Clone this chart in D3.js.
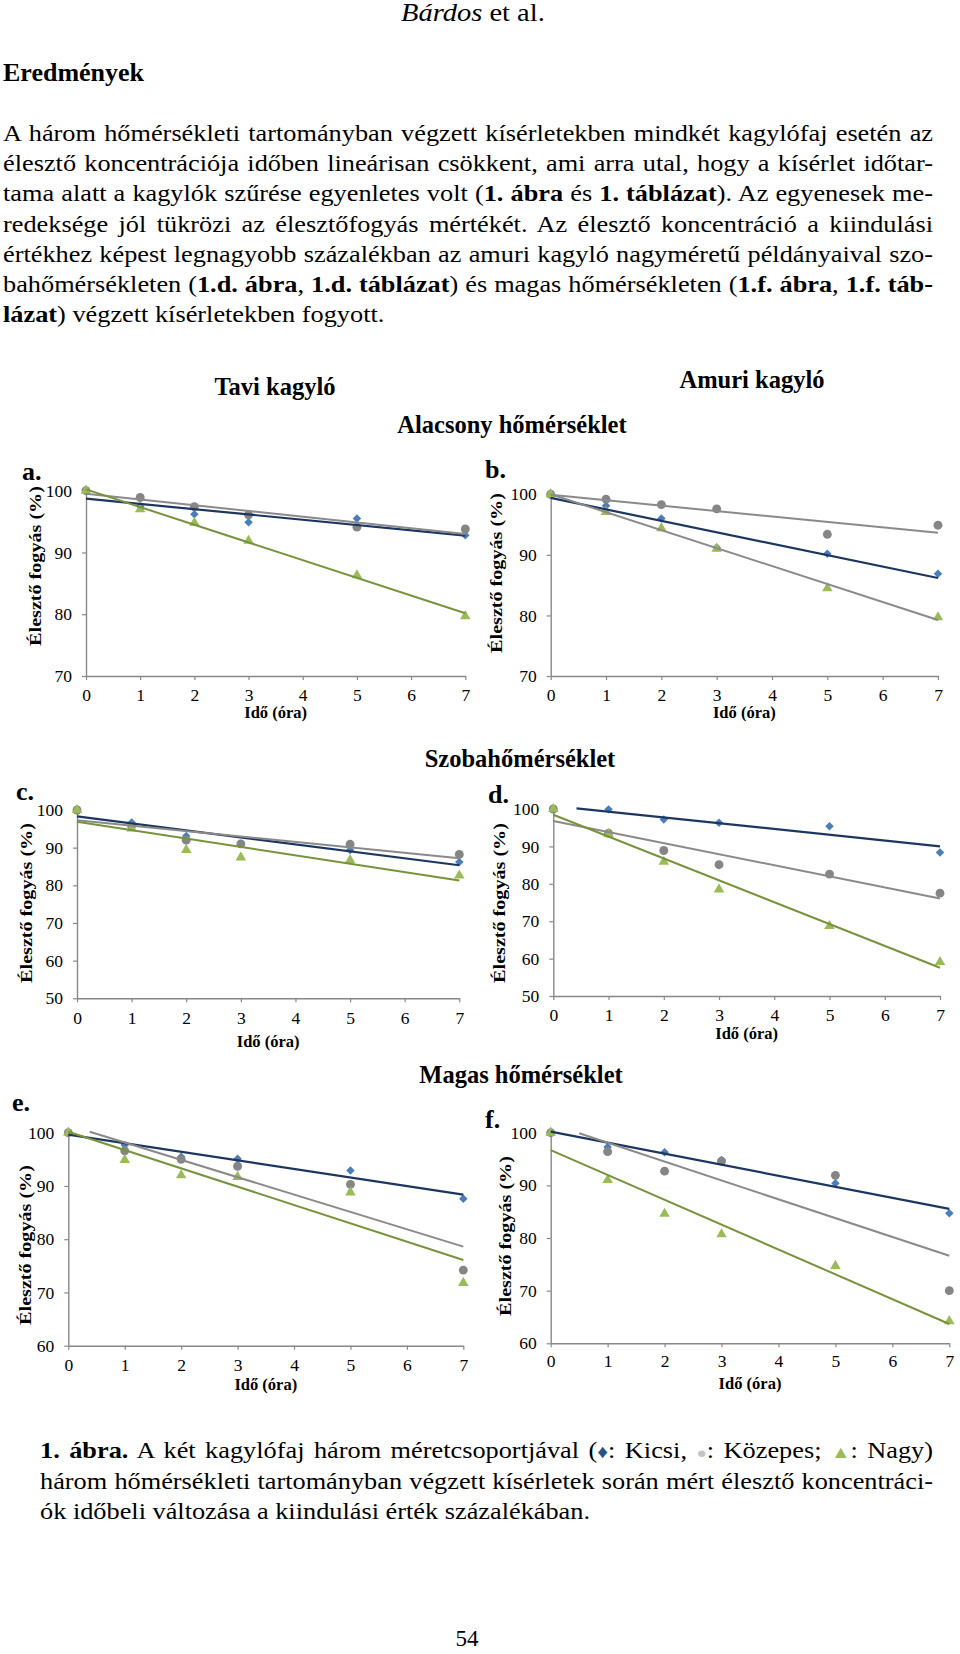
<!DOCTYPE html>
<html><head><meta charset="utf-8">
<script src="https://cdn.jsdelivr.net/npm/d3@7"></script>
<style>
body{margin:0;background:#fff;}
svg{display:block;}
text{font-family:"Liberation Serif","Times New Roman",serif;fill:#000;white-space:pre;}
</style></head><body>
<svg id="page" width="960" height="1654"></svg>
<script>
// ---------------- DATA ----------------
const hours = [0, 1, 2, 3, 5, 7];
const xTickValues = [0, 1, 2, 3, 4, 5, 6, 7];
const sizeGroups = ["Kicsi", "Közepes", "Nagy"];
const panelLabels = ["a.", "b.", "c.", "d.", "e.", "f."];
const yAxisMin = [70, 70, 50, 50, 60, 60];
const yAxisMax = [100, 100, 100, 100, 100, 100];

// a. Tavi kagyló – alacsony hőmérséklet
const aKicsi   = [100, 97.5, 96.2, 94.9, 95.5, 92.8];
const aKozepes = [100, 98.9, 97.4, 96.1, 94.1, 93.8];
const aNagy    = [100, 97.0, 94.8, 91.9, 86.3, 79.7];
// b. Amuri kagyló – alacsony hőmérséklet
const bKicsi   = [100, 98.1, 96.0, 91.2, 90.2, 86.9];
const bKozepes = [100, 99.2, 98.3, 97.6, 93.4, 94.9];
const bNagy    = [100, 97.1, 94.4, 91.0, 84.5, 79.7];
// c. Tavi kagyló – szobahőmérséklet
const cKicsi   = [100, 96.7, 93.1, 91.0, 89.4, 86.2];
const cKozepes = [100, 95.8, 92.0, 91.0, 90.9, 88.2];
const cNagy    = [100, 95.1, 89.4, 87.4, 86.7, 82.6];
// d. Amuri kagyló – szobahőmérséklet
const dKicsi   = [100, 99.9, 97.2, 96.3, 95.4, 88.4];
const dKozepes = [100, 93.5, 88.9, 85.1, 82.6, 77.5];
const dNagy    = [100, 93.3, 85.9, 78.5, 68.7, 59.1];
// e. Tavi kagyló – magas hőmérséklet
const eKicsi   = [100, 97.7, 95.5, 95.1, 92.9, 87.6];
const eKozepes = [100, 96.6, 95.0, 93.7, 90.3, 74.2];
const eNagy    = [100, 94.9, 92.0, 91.7, 88.8, 71.8];
// f. Amuri kagyló – magas hőmérséklet
const fKicsi   = [100, 97.3, 96.3, 94.8, 90.4, 84.7];
const fKozepes = [100, 96.4, 92.7, 94.6, 91.9, 70.0];
const fNagy    = [100, 91.0, 84.6, 80.7, 74.7, 64.2];

// x where each trend line begins (Kicsi, Közepes, Nagy)
const trendStart = [[0,0,0],[0,0,0],[0,0,0],[0.42,0,0],[0,0.38,0],[0,0.5,0]];

const panelSeries = [
  [aKicsi, aKozepes, aNagy], [bKicsi, bKozepes, bNagy],
  [cKicsi, cKozepes, cNagy], [dKicsi, dKozepes, dNagy],
  [eKicsi, eKozepes, eNagy], [fKicsi, fKozepes, fNagy]
];

const speciesTitles = ["Tavi kagyló", "Amuri kagyló"];
const tempTitles = ["Alacsony hőmérséklet", "Szobahőmérséklet", "Magas hőmérséklet"];
const xAxisTitle = "Idő (óra)";
const yAxisTitle = "Élesztő fogyás (%)";

const paraLines = [
  [["A három hőmérsékleti tartományban végzett kísérletekben mindkét kagylófaj esetén az",0]],
  [["élesztő koncentrációja időben lineárisan csökkent, ami arra utal, hogy a kísérlet időtar-",0]],
  [["tama alatt a kagylók szűrése egyenletes volt (",0],["1. ábra",1],[" és ",0],["1. táblázat",1],["). Az egyenesek me-",0]],
  [["redeksége jól tükrözi az élesztőfogyás mértékét. Az élesztő koncentráció a kiindulási",0]],
  [["értékhez képest legnagyobb százalékban az amuri kagyló nagyméretű példányaival szo-",0]],
  [["bahőmérsékleten (",0],["1.d. ábra",1],[", ",0],["1.d. táblázat",1],[") és magas hőmérsékleten (",0],["1.f. ábra",1],[", ",0],["1.f. táb-",1]],
  [["lázat",1],[") végzett kísérletekben fogyott.",0]]
];
const captionLines = [
  [["1. ábra.",1],[" A két kagylófaj három méretcsoportjával (",0],["♦",2],[": Kicsi, ",0],["●",3],[": Közepes; ",0],["▲",4],[": Nagy)",0]],
  [["három hőmérsékleti tartományban végzett kísérletek során mért élesztő koncentráci-",0]],
  [["ók időbeli változása a kiindulási érték százalékában.",0]]
];

// ---------------- STYLE / LAYOUT ----------------
const COL = {
  navy: "#1c3660", gray: "#8a8a8a", green: "#77933c",
  mBlue: "#4a7ebb", mGray: "#858585", mGreen: "#9bbb59", axis: "#888888"
};
const trendColors = [
  [COL.navy, COL.gray, COL.green], [COL.navy, COL.gray, COL.gray],
  [COL.navy, COL.gray, COL.green], [COL.navy, COL.gray, COL.green],
  [COL.navy, COL.gray, COL.green], [COL.navy, COL.gray, COL.green]
];
const layout = [
  {x0:86,   x7:465.3, yTop:490.7, yBot:676,    lab:[22,480],  yt:[41,566],   xtB:25.2, xtT:41.7},
  {x0:550.7,x7:938,   yTop:494.3, yBot:676,    lab:[485,478], yt:[502,573],  xtB:25.2, xtT:42},
  {x0:77,   x7:459.3, yTop:810,   yBot:998.3,  lab:[16,800],  yt:[32,903],   xtB:26.2, xtT:49},
  {x0:553.3,x7:940,   yTop:809,   yBot:996,    lab:[488,803], yt:[505,903],  xtB:25.2, xtT:42.7},
  {x0:68.3, x7:463.3, yTop:1132.7,yBot:1345.7, lab:[12,1111], yt:[31,1245],  xtB:25.5, xtT:44},
  {x0:550.7,x7:949.3, yTop:1132.7,yBot:1343.3, lab:[485,1128],yt:[511,1236], xtB:24.2, xtT:45.2}
];
const BODY_SIZE = 23.5, BODY_K = 1.12;

const svg = d3.select("#page");

function textLine(x, y, segs, size, width, k) {
  const t = svg.append("text").attr("transform", `translate(${x},${y}) scale(${k},1)`)
    .style("font-size", size + "px");
  segs.forEach(([s, kind]) => {
    const ts = t.append("tspan").text(s);
    if (kind === 1) ts.style("font-weight", "bold");
    if (kind === 2) ts.style("fill", "#2a528a").style("font-size", (size*0.8)+"px");
    if (kind === 3) ts.style("fill", "#c4c4c4").style("font-size", (size*0.65)+"px");
    if (kind === 4) ts.style("fill", COL.mGreen).style("font-size", (size*0.75)+"px");
  });
  if (width) {
    const nat = t.node().getComputedTextLength();
    const spaces = segs.map(d => d[0]).join("").split(" ").length - 1;
    if (spaces > 0) t.style("word-spacing", ((width / k - nat) / spaces) + "px");
  }
  return t;
}

// header
const hdr = svg.append("text").attr("transform", "translate(401,21) scale(1.14,1)").style("font-size", "25px");
hdr.append("tspan").style("font-style", "italic").text("Bárdos");
hdr.append("tspan").text(" et al.");

svg.append("text").attr("transform", "translate(3,81) scale(1.04,1)").style("font-size", "25px")
  .style("font-weight", "bold").text("Eredmények");

paraLines.forEach((segs, i) => {
  textLine(3, 141 + i * 30.2, segs, BODY_SIZE, i < paraLines.length - 1 ? 930 : null, BODY_K);
});

// section titles
function bold(x, y, s, size) {
  svg.append("text").attr("x", x).attr("y", y).attr("text-anchor", "middle")
    .style("font-size", size + "px").style("font-weight", "bold").text(s);
}
bold(275, 395, speciesTitles[0], 24.5);
bold(752, 388, speciesTitles[1], 24.5);
bold(512, 433, tempTitles[0], 24.5);
bold(520, 767, tempTitles[1], 24.5);
bold(521, 1083, tempTitles[2], 24.5);

function regression(xs, ys) {
  const mx = d3.mean(xs), my = d3.mean(ys);
  const sxy = d3.sum(xs, (v, i) => (v - mx) * (ys[i] - my));
  const sxx = d3.sum(xs, v => (v - mx) * (v - mx));
  const m = sxy / sxx;
  return {m, b: my - m * mx};
}

const symDiamond = d3.symbol().type(d3.symbolSquare).size(36)();
const symCircle = d3.symbol().type(d3.symbolCircle).size(62)();
const symTri = d3.symbol().type(d3.symbolTriangle).size(48)();
const markerPaths = [symDiamond, symCircle, symTri];
const markerFills = [COL.mBlue, COL.mGray, COL.mGreen];

layout.forEach((L, pi) => {
  const x = d3.scaleLinear().domain([0, 7]).range([L.x0, L.x7]);
  const y = d3.scaleLinear().domain([yAxisMin[pi], yAxisMax[pi]]).range([L.yBot, L.yTop]);
  const g = svg.append("g");
  const yTicks = d3.range(yAxisMin[pi], yAxisMax[pi] + 1, 10);

  const xa = g.append("g").attr("transform", `translate(0,${L.yBot})`)
    .call(d3.axisBottom(x).tickValues(xTickValues).tickFormat(d3.format("d"))
      .tickSize(4).tickSizeOuter(0).tickPadding(L.xtB - 4 - 0.71 * 17.5));
  const ya = g.append("g").attr("transform", `translate(${L.x0},0)`)
    .call(d3.axisLeft(y).tickValues(yTicks).tickFormat(d3.format("d"))
      .tickSize(4).tickSizeOuter(0).tickPadding(10));
  [xa, ya].forEach(a => {
    a.select(".domain").attr("stroke", COL.axis).attr("stroke-width", 1.4);
    a.selectAll(".tick line").attr("stroke", COL.axis).attr("stroke-width", 1.2);
    a.selectAll("text").attr("fill", "#000")
      .style("font-family", '"Liberation Serif","Times New Roman",serif').style("font-size", "17.5px");
    a.attr("font-family", null).attr("font-size", null);
  });

  // axis titles
  g.append("text").attr("x", (L.x0 + L.x7) / 2).attr("y", L.yBot + L.xtT)
    .attr("text-anchor", "middle").style("font-size", "16.5px").style("font-weight", "bold").text(xAxisTitle);
  g.append("text").attr("transform", `translate(${L.yt[0]},${L.yt[1]}) rotate(-90) scale(1.22,1)`)
    .attr("text-anchor", "middle").style("font-size", "16.5px").style("font-weight", "bold").text(yAxisTitle);
  // panel label
  g.append("text").attr("x", L.lab[0]).attr("y", L.lab[1]).style("font-size", "26px")
    .style("font-weight", "bold").text(panelLabels[pi]);

  const series = panelSeries[pi];
  // markers
  series.forEach((vals, si) => {
    g.append("g").selectAll("path").data(vals).join("path")
      .attr("d", markerPaths[si])
      .attr("transform", (v, i) => `translate(${x(hours[i])},${y(v)})${si === 0 ? " rotate(45)" : ""}`)
      .attr("fill", markerFills[si]);
  });
  // trend lines
  series.forEach((vals, si) => {
    const r = regression(hours, vals);
    const x1 = trendStart[pi][si], x2 = 7;
    g.append("line")
      .attr("x1", x(x1)).attr("y1", y(r.b + r.m * x1))
      .attr("x2", x(x2)).attr("y2", y(r.b + r.m * x2))
      .attr("stroke", trendColors[pi][si]).attr("stroke-width", si === 0 ? 2.2 : 2);
  });
});

// caption
captionLines.forEach((segs, i) => {
  textLine(40, 1458 + i * 30.5, segs, BODY_SIZE, i < captionLines.length - 1 ? 893 : null, BODY_K);
});
svg.append("text").attr("x", 467).attr("y", 1646).attr("text-anchor", "middle")
  .style("font-size", "23px").text("54");
</script>
</body></html>
